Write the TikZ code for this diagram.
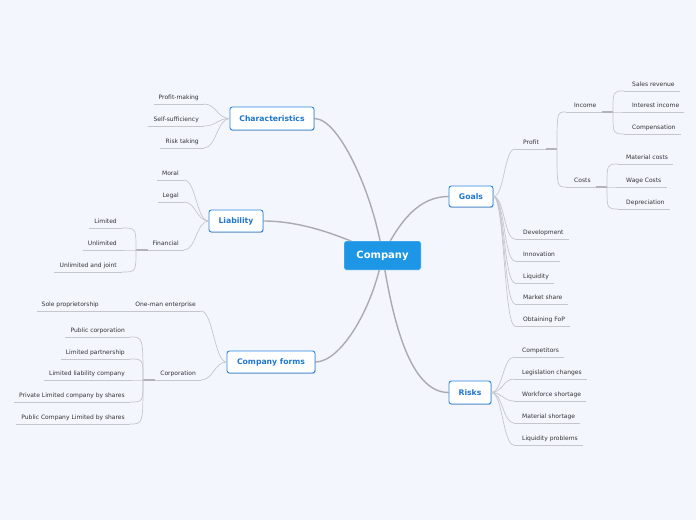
\documentclass[tikz,border=0pt]{standalone}
\usepackage{fontspec}
\setmainfont{DejaVu Sans}
\usetikzlibrary{calc,backgrounds,shadows}
\definecolor{bgc}{HTML}{F3F6FD}
\definecolor{topicb}{HTML}{2D86DF}
\definecolor{topict}{HTML}{1F77D0}
\definecolor{centerc}{HTML}{1E96E6}
\definecolor{mainc}{HTML}{ABABAF}
\definecolor{linec}{HTML}{C6C7CC}
\definecolor{stubc}{HTML}{B2B3B8}
\definecolor{leaftxt}{HTML}{333333}
\newcommand{\mmR}[4]{%
  \coordinate (#1-l) at (#2,#3);
  \node[leaf,anchor=base west] (#1) at (#2+8,#3-5) {#4};
  \coordinate (#1-r) at ($(#1.east |- #1-l)+(5,0)$);
  \draw[uline] (#1-l) -- (#1-r);
}
\newcommand{\mmRP}[5]{%
  \coordinate (#1-l) at (#2,#3);
  \coordinate (#1-j) at (#4,#3);
  \node[leaf,anchor=base west] (#1) at (#2+8,#3-5) {#5};
  \draw[uline] (#1-l) -- (#1-j);
  \draw[stub] (#1-j) -- ++(-11,0);
}
\newcommand{\mmL}[4]{%
  \coordinate (#1-r) at (#2,#3);
  \node[leaf,anchor=base east] (#1) at (#2-5,#3-5) {#4};
  \coordinate (#1-l) at ($(#1.west |- #1-r)+(-5,0)$);
  \draw[uline] (#1-l) -- (#1-r);
}
\newcommand{\mmLP}[5]{%
  \coordinate (#1-r) at (#2,#3);
  \coordinate (#1-j) at (#4,#3);
  \node[leaf,anchor=base east] (#1) at (#2-5,#3-5) {#5};
  \draw[uline] (#1-j) -- (#1-r);
  \draw[stub] (#1-j) -- ++(12,0);
}
\begin{document}
\begin{tikzpicture}[x=1pt,y=-1pt,
  leaf/.style={inner sep=0pt, font=\fontsize{6}{7}\selectfont, text=leaftxt},
  uline/.style={draw=linec, line width=0.6pt},
  stub/.style={draw=stubc, line width=1.1pt},
  branch/.style={draw=linec, line width=0.7pt},
  mainline/.style={draw=mainc, line width=1.4pt},
  topic/.style={draw=topicb, line width=0.9pt, fill=white, rounded corners=2.5pt,
    text=topict, font=\fontsize{7.7}{9}\selectfont\bfseries, inner sep=0pt,
    drop shadow={shadow xshift=0.5pt, shadow yshift=-0.9pt, opacity=0.22, fill=black}},
  center/.style={fill=centerc, draw=white, line width=0.4pt, rounded corners=2pt,
    text=white, font=\fontsize{10}{12}\selectfont\bfseries, inner sep=0pt,
    minimum width=77pt, minimum height=29pt}
]
\useasboundingbox (0,0) rectangle (696,520);

% central and main topics
\node[center] (company) at (382.5,255.5) {Company};
\node[topic, minimum width=84pt, minimum height=23pt] (char) at (272,118.5) {Characteristics};
\node[topic, minimum width=54pt, minimum height=22pt] (liab) at (236,221) {Liability};
\node[topic, minimum width=88pt, minimum height=22pt] (cf) at (271,362) {Company forms};
\node[topic, minimum width=44pt, minimum height=21pt] (goals) at (471,196.5) {Goals};
\node[topic, minimum width=42pt, minimum height=23pt] (risks) at (470,392.5) {Risks};

\begin{scope}[on background layer]
  \fill[bgc] (0,0) rectangle (696,520);
  \draw[mainline] (company.center) .. controls +(-7.5,-55.5) and +(26,0) .. (char.east);
  \draw[mainline] (company.center) .. controls +(-42,-21) and +(37,0) .. (liab.east);
  \draw[mainline] (company.center) .. controls +(-10,54) and +(25,0) .. (cf.east);
  \draw[mainline] (company.center) .. controls +(18,-36) and +(-29,0) .. (goals.west);
  \draw[mainline] (company.center) .. controls +(10,64) and +(-39,0) .. (risks.west);
\end{scope}

% left leaves
\mmL{pm}{204}{104}{Profit-making}
\mmL{ss}{204}{126}{Self-sufficiency}
\mmL{rt}{204}{148}{Risk taking}
\mmL{moral}{184}{180}{Moral}
\mmL{legal}{184}{202}{Legal}
\mmLP{fin}{184}{250}{136}{Financial}
\mmL{lim}{122}{228}{Limited}
\mmL{unlim}{122}{250}{Unlimited}
\mmL{unlj}{122}{272}{Unlimited and joint}
\mmL{oneman}{201}{311}{One-man enterprise}
\mmL{sole}{104}{311}{Sole proprietorship}
\mmLP{corp}{201}{380}{143}{Corporation}
\mmL{pubc}{130}{337}{Public corporation}
\mmL{limp}{130}{359}{Limited partnership}
\mmL{llc}{130}{380}{Limited liability company}
\mmL{plc}{130}{402}{Private Limited company by shares}
\mmL{pcl}{130}{424}{Public Company Limited by shares}

% right leaves
\mmRP{profit}{515}{149}{557}{Profit}
\mmRP{income}{566}{112}{613}{Income}
\mmR{sales}{624}{91}{Sales revenue}
\mmR{intinc}{624}{112}{Interest income}
\mmR{comp}{624}{134}{Compensation}
\mmRP{costs}{566}{187}{607}{Costs}
\mmR{matc}{618}{164}{Material costs}
\mmR{wage}{618}{187}{Wage Costs}
\mmR{depr}{618}{209}{Depreciation}
\mmR{dev}{515}{239}{Development}
\mmR{innov}{515}{261}{Innovation}
\mmR{liq}{515}{283}{Liquidity}
\mmR{mshare}{515}{304}{Market share}
\mmR{fop}{515}{326}{Obtaining FoP}
\mmR{comps}{514}{357}{Competitors}
\mmR{legis}{514}{379}{Legislation changes}
\mmR{work}{514}{401}{Workforce shortage}
\mmR{mats}{514}{423}{Material shortage}
\mmR{liqp}{514}{445}{Liquidity problems}

% topic-to-leaf connectors
\foreach \c in {pm,ss,rt}
  \draw[branch] (char.west) .. controls +(-12,0) and +(12,0) .. (\c-r);
\foreach \c in {moral,legal,fin}
  \draw[branch] (liab.west) .. controls +(-12,0) and +(12,0) .. (\c-r);
\foreach \c in {oneman,corp}
  \draw[branch] (cf.west) .. controls +(-12,0) and +(12,0) .. (\c-r);
\draw[branch] (oneman-l) -- (sole-r);
\foreach \c in {profit,dev,innov,liq,mshare,fop}
  \draw[branch] (goals.east) .. controls +(11,0) and +(-11,0) .. (\c-l);
\foreach \c in {comps,legis,work,mats,liqp}
  \draw[branch] (risks.east) .. controls +(11,0) and +(-11,0) .. (\c-l);

% brackets
\foreach \c in {lim,unlim,unlj}
  \draw[branch] (fin-j) .. controls (fin-j |- \c-r) .. (\c-r);
\foreach \c in {pubc,limp,llc,plc,pcl}
  \draw[branch] (corp-j) .. controls (corp-j |- \c-r) .. (\c-r);
\foreach \c in {income,costs}
  \draw[branch] (profit-j) .. controls (profit-j |- \c-l) .. (\c-l);
\foreach \c in {sales,intinc,comp}
  \draw[branch] (income-j) .. controls (income-j |- \c-l) .. (\c-l);
\foreach \c in {matc,wage,depr}
  \draw[branch] (costs-j) .. controls (costs-j |- \c-l) .. (\c-l);
\end{tikzpicture}
\end{document}
